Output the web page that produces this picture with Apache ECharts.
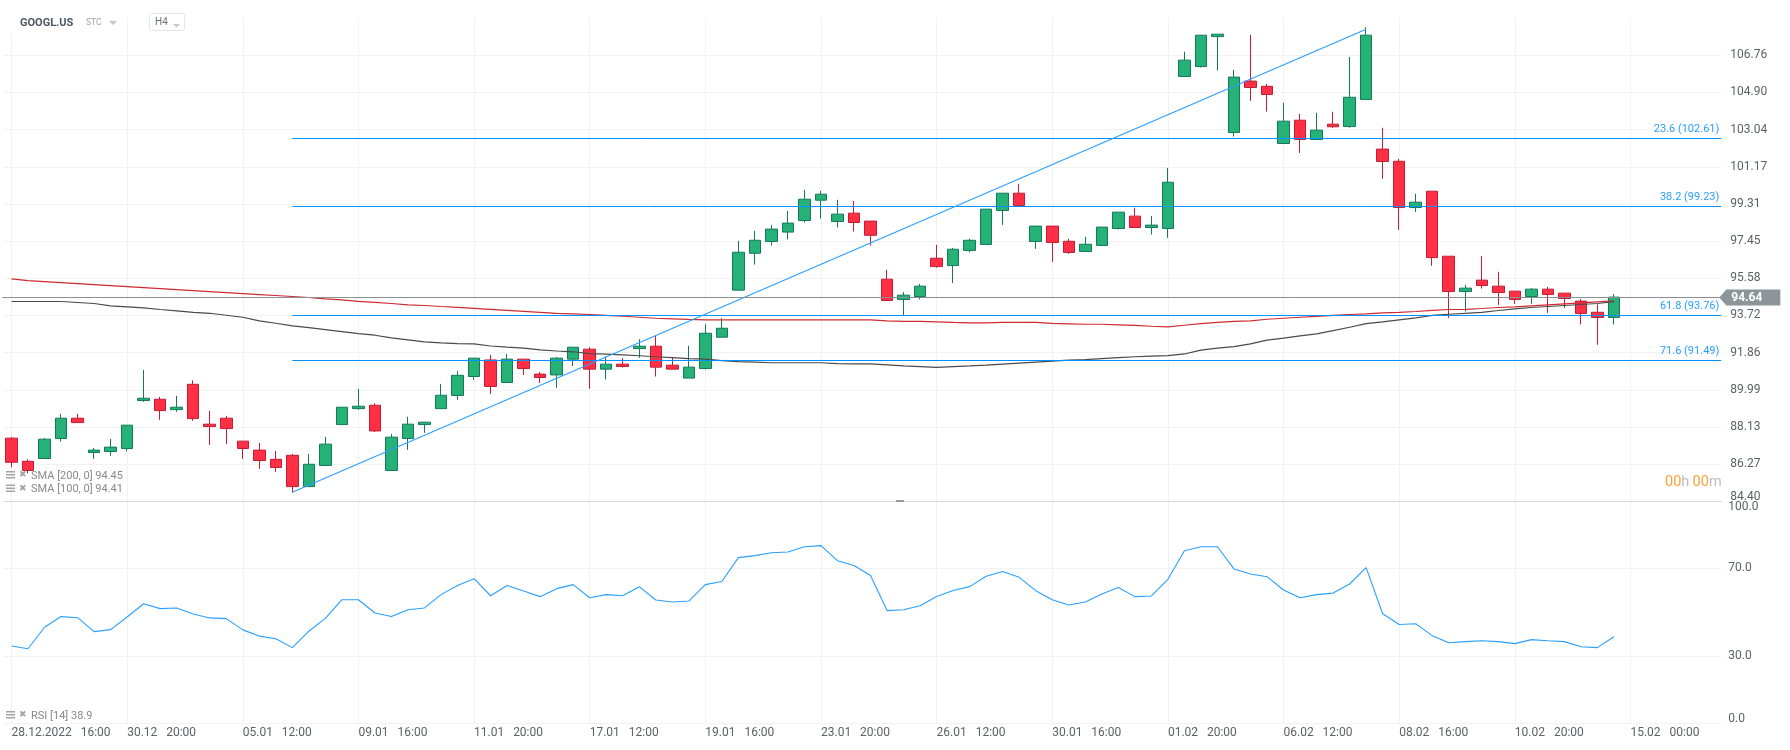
<!DOCTYPE html>
<html><head><meta charset="utf-8">
<style>html,body{margin:0;padding:0;background:#fff}#c{width:1790px;height:750px}</style>
<script src="https://cdn.jsdelivr.net/npm/echarts@6/dist/echarts.min.js"></script>
</head><body><div id="c"></div>
<script>
const opens=[87.57,86.41,86.55,87.55,88.57,86.85,86.90,87.05,89.46,89.52,89.00,90.27,88.27,88.57,87.42,86.97,86.51,86.71,85.14,86.20,88.25,89.05,89.22,85.95,87.55,88.25,89.05,89.71,90.66,91.49,90.36,91.53,90.78,90.74,91.53,92.03,91.03,91.28,92.06,92.18,91.23,90.58,91.06,92.63,94.99,96.84,97.43,97.90,98.48,99.50,98.43,98.85,98.45,95.54,94.52,94.67,96.59,96.22,96.98,97.28,98.98,99.85,97.43,98.20,97.44,96.93,97.23,98.08,98.70,98.13,98.08,105.70,106.20,107.70,102.89,105.47,105.21,102.34,103.51,102.54,103.31,103.19,104.55,102.06,101.45,99.13,99.95,96.69,94.92,95.49,95.19,94.94,94.67,95.04,94.84,94.44,93.88,93.62];
const closes=[86.36,85.95,87.52,88.57,88.35,86.97,87.12,88.22,89.57,88.95,89.12,88.55,88.15,88.05,87.05,86.45,86.10,85.14,86.26,87.27,89.12,89.17,87.93,87.62,88.27,88.37,89.72,90.72,91.58,90.16,91.53,91.06,90.61,91.58,92.13,91.03,91.28,91.16,92.18,91.13,91.03,91.13,92.83,93.08,96.89,97.49,98.05,98.35,99.55,99.80,98.80,98.38,97.74,94.47,94.74,95.19,96.17,97.04,97.49,99.05,99.85,99.23,98.20,97.38,96.88,97.29,98.15,98.90,98.13,98.25,100.40,106.52,107.77,107.82,105.67,105.15,104.80,103.46,102.54,103.01,103.18,104.66,107.77,101.44,99.13,99.40,96.62,94.92,95.09,95.22,94.87,94.52,95.04,94.77,94.57,93.82,93.62,94.64];
const lows=[86.11,85.81,86.55,87.40,88.35,86.53,86.68,86.90,89.39,88.49,88.89,88.44,87.23,87.28,86.53,86.03,85.88,84.84,85.14,86.20,88.25,89.00,87.88,85.95,86.98,87.83,89.05,89.49,90.49,89.79,90.36,90.74,90.34,90.09,91.19,90.04,90.51,91.11,91.60,90.66,91.03,90.58,91.01,92.63,94.99,96.27,97.23,97.53,98.38,98.58,98.13,97.93,97.23,94.47,93.73,94.52,96.12,95.35,96.88,97.28,98.26,99.23,97.06,96.41,96.81,96.93,97.23,98.03,98.13,97.78,97.61,105.70,106.15,106.00,102.69,104.48,103.94,102.34,101.87,102.54,103.13,103.13,104.55,100.57,98.01,98.91,96.21,93.60,93.92,95.07,94.25,94.30,94.30,93.85,94.10,93.27,92.25,93.27];
const highs=[87.63,86.51,87.58,88.79,88.79,87.08,87.53,88.22,90.99,89.64,89.69,90.47,88.94,88.69,87.42,87.33,86.93,86.78,86.78,87.63,89.12,90.04,89.32,87.78,88.64,88.37,90.29,90.94,91.58,91.74,91.79,91.53,90.89,91.64,92.13,92.13,91.66,91.58,92.53,92.70,91.63,92.20,93.28,93.58,97.46,97.96,98.26,98.96,100.02,99.97,99.52,99.47,98.45,96.01,94.90,95.30,97.26,97.11,97.56,99.05,99.85,100.32,98.20,98.20,97.56,97.66,98.15,98.90,99.12,98.71,101.12,106.94,107.77,107.82,106.03,107.79,105.33,104.38,103.83,103.88,103.93,106.68,108.17,103.13,101.57,99.82,99.95,96.69,95.25,96.71,95.91,94.94,95.09,95.15,94.84,94.55,94.28,94.79];
const sma200=[95.55,95.47,95.42,95.37,95.32,95.27,95.22,95.17,95.12,95.07,95.02,94.97,94.92,94.87,94.82,94.77,94.72,94.67,94.62,94.55,94.50,94.43,94.38,94.32,94.25,94.22,94.17,94.13,94.08,94.03,93.98,93.93,93.88,93.83,93.80,93.77,93.72,93.68,93.63,93.58,93.55,93.52,93.50,93.50,93.50,93.50,93.50,93.50,93.50,93.50,93.50,93.50,93.50,93.45,93.42,93.42,93.40,93.37,93.35,93.35,93.37,93.37,93.37,93.32,93.30,93.28,93.28,93.25,93.22,93.18,93.15,93.23,93.31,93.37,93.42,93.45,93.53,93.58,93.63,93.67,93.72,93.77,93.80,93.85,93.88,93.92,93.98,94.02,94.03,94.07,94.12,94.15,94.20,94.25,94.30,94.35,94.40,94.45];
const sma100=[94.42,94.42,94.42,94.42,94.37,94.32,94.20,94.15,94.10,94.02,93.95,93.88,93.83,93.73,93.63,93.45,93.33,93.20,93.11,93.01,92.91,92.81,92.73,92.60,92.50,92.40,92.35,92.31,92.30,92.19,92.13,92.08,92.00,91.94,91.90,91.81,91.78,91.74,91.70,91.65,91.61,91.56,91.53,91.46,91.41,91.38,91.35,91.35,91.35,91.35,91.31,91.29,91.29,91.24,91.19,91.16,91.12,91.16,91.19,91.23,91.28,91.33,91.38,91.43,91.48,91.51,91.56,91.61,91.65,91.68,91.71,91.79,91.98,92.08,92.16,92.30,92.48,92.58,92.70,92.80,92.96,93.13,93.31,93.40,93.50,93.60,93.72,93.78,93.83,93.88,93.97,94.05,94.12,94.17,94.22,94.27,94.32,94.41];
const rsi=[34.7,33.5,43.2,48.0,47.5,41.2,42.1,47.8,53.8,51.6,51.9,49.2,47.4,47.1,42.0,39.2,38.0,34.0,41.4,47.2,55.6,55.6,49.6,48.0,51.1,51.9,57.9,62.0,65.1,57.4,62.0,59.5,57.0,60.6,62.4,56.5,57.9,57.4,61.5,55.5,54.6,55.0,62.4,63.8,74.6,75.5,76.8,77.1,79.5,80.0,73.2,71.0,66.5,50.7,51.1,52.9,57.1,59.8,61.5,66.2,68.3,65.7,59.7,55.6,53.2,54.6,58.2,61.1,57.0,57.3,64.8,77.7,79.5,79.5,69.5,67.2,66.0,60.0,56.5,57.9,58.6,62.7,70.1,49.3,44.4,44.8,39.4,36.2,36.7,37.1,36.7,35.8,37.6,37.1,36.7,34.4,34.0,38.9];
const xTickLabels=['28.12.2022   16:00','30.12   20:00','05.01   12:00','09.01   16:00','11.01   20:00','17.01   12:00','19.01   16:00','23.01   20:00','26.01   12:00','30.01   16:00','01.02   20:00','06.02   12:00','08.02   16:00','10.02   20:00','15.02   00:00'];
const yTicks=[84.404,86.267,88.131,89.994,91.857,93.72,95.584,97.447,99.31,101.174,103.037,104.9,106.76];
const rsiTicks=[0,30,70,100];
const fibLevels=[23.6,38.2,61.8,71.6];
const fibValues=[102.61,99.23,93.76,91.49];
const fibStart=17;
const trendPoints=[[17,84.86],[82,108.07]];
const lastPrice=94.64;
const smaNames=['SMA [200, 0] 94.45','SMA [100, 0] 94.41'];
const rsiName='RSI [14] 38.9';

const CAT_COUNT=104, BAND=16.52, GL=3.24, GW=BAND*CAT_COUNT;
const categories=Array.from({length:CAT_COUNT},(_,i)=>String(i));
const FONT='Roboto, sans-serif';
const TXT='#5d6267', GRID='#f2f2f2';
const gridInterval=i=>i%7===0;

const chart=echarts.init(document.getElementById('c'),null,{width:1790,height:750,renderer:'canvas'});
function crisp(v){return Math.round(v)+0.5;}
function xAxisOf(idx,showLabel){
  return {type:'category',gridIndex:idx,data:categories,boundaryGap:true,
    axisLine:{show:idx===0,onZero:false,lineStyle:{color:'#dcdcdc',width:1}},
    axisTick:{show:false,alignWithLabel:true,interval:gridInterval},
    splitLine:{show:true,alignWithLabel:true,interval:gridInterval,lineStyle:{color:GRID,width:1}},
    axisLabel:{show:showLabel,interval:(i)=>i%7===0&&i/7<xTickLabels.length,align:'left',margin:4,
      color:TXT,fontFamily:FONT,fontSize:12,hideOverlap:false,
      formatter:(v,i)=>xTickLabels[Number(v)/7]||''}};
}
const lowRich={low:{color:TXT,fontFamily:FONT,fontSize:12,lineHeight:8}};
chart.setOption({
  animation:false,backgroundColor:'#fff',textStyle:{fontFamily:FONT},
  grid:[{left:GL,width:GW,top:18,height:483.3},{left:GL,width:GW,top:501.3,height:221.7}],
  xAxis:[xAxisOf(0,false),xAxisOf(1,true)],
  yAxis:[
    {type:'value',gridIndex:0,position:'right',min:84.404,max:108.633,scale:true,
      axisLine:{show:false},axisTick:{show:false,customValues:yTicks},
      splitLine:{show:true,lineStyle:{color:GRID,width:1}},
      axisLabel:{margin:9,color:TXT,fontFamily:FONT,fontSize:12,customValues:yTicks,
        showMinLabel:true,showMaxLabel:true,verticalAlignMinLabel:'bottom',rich:lowRich,
        formatter:v=>v===yTicks[0]?'{low|'+v.toFixed(2)+'}':v.toFixed(2)}},
    {type:'value',gridIndex:1,position:'right',min:0,max:100,
      axisLine:{show:false},axisTick:{show:false,customValues:rsiTicks},
      splitLine:{show:true,lineStyle:{color:GRID,width:1}},
      axisLabel:{margin:7,color:TXT,fontFamily:FONT,fontSize:12,customValues:rsiTicks,
        verticalAlignMinLabel:'bottom',verticalAlignMaxLabel:'top',rich:lowRich,
        formatter:v=>v===0?'{low|'+v.toFixed(1)+'}':v.toFixed(1)}}
  ],
  series:[
    {name:'GOOGL.US',type:'candlestick',xAxisIndex:0,yAxisIndex:0,barWidth:12,z:3,
      data:opens.map((o,i)=>[o,closes[i],lows[i],highs[i]]),
      itemStyle:{color:'#26b276',color0:'#ff3045',borderColor:'#14795a',borderColor0:'#bf1f35',borderWidth:1}},
    {name:'SMA 200',type:'line',xAxisIndex:0,yAxisIndex:0,data:sma200,symbol:'none',z:4,
      lineStyle:{color:'#cf2a2f',width:1.2}},
    {name:'SMA 100',type:'line',xAxisIndex:0,yAxisIndex:0,data:sma100,symbol:'none',z:4,
      lineStyle:{color:'#4a4a4a',width:1.2}},
    {name:'Trend',type:'line',xAxisIndex:0,yAxisIndex:0,data:trendPoints,symbol:'none',z:5,
      lineStyle:{color:'#2a9fff',width:1.1}},
    {name:'Fibonacci',type:'custom',xAxisIndex:0,yAxisIndex:0,z:5,
      data:fibValues.map(v=>[fibStart,v]),
      renderItem(params,api){
        const p=api.coord([api.value(0),api.value(1)]);
        const r=params.coordSys.x+params.coordSys.width;
        const y=crisp(p[1]);
        return {type:'group',children:[
          {type:'line',shape:{x1:p[0],y1:y,x2:r,y2:y},style:{stroke:'#0091fb',lineWidth:1}},
          {type:'text',style:{text:fibLevels[params.dataIndex].toFixed(1)+' ('+fibValues[params.dataIndex].toFixed(2)+')',
            x:r-2,y:y-9,align:'right',verticalAlign:'middle',fill:'#2a9fff',font:'11px '+FONT}}
        ]};
      }},
    {name:'Price',type:'custom',xAxisIndex:0,yAxisIndex:0,z:6,clip:false,
      data:[[0,lastPrice]],
      renderItem(params,api){
        const p=api.coord([0,api.value(1)]);
        const l=params.coordSys.x, r=l+params.coordSys.width, y=crisp(p[1]);
        return {type:'group',children:[
          {type:'line',shape:{x1:l-1,y1:y,x2:r,y2:y},style:{stroke:'#8a9092',lineWidth:1}},
          {type:'polygon',shape:{points:[[r-2,y],[r+5,y-8],[r+59,y-8],[r+59,y+8],[r+5,y+8]]},style:{fill:'#8c9599'}},
          {type:'text',style:{text:lastPrice.toFixed(2),x:r+10,y:y,align:'left',verticalAlign:'middle',fill:'#fff',font:'bold 12px '+FONT}}
        ]};
      }},
    {name:'RSI',type:'line',xAxisIndex:1,yAxisIndex:1,data:rsi,symbol:'none',z:4,
      lineStyle:{color:'#2a9fff',width:1.1}}
  ],
  graphic:[
    {type:'rect',shape:{x:0,y:17,width:127,height:16},style:{fill:'#fff'},z:10},
    {type:'rect',shape:{x:0,y:0,width:1790,height:17},style:{fill:'#fff'},z:10},
    {type:'text',x:20,y:23,z:11,style:{text:'GOOGL.US',font:'bold 11px '+FONT,fill:'#4d5862',verticalAlign:'middle'}},
    {type:'text',x:86,y:23,z:11,style:{text:'STC',font:'8.5px '+FONT,fill:'#9aa3aa',verticalAlign:'middle'}},
    {type:'polygon',z:11,shape:{points:[[109,21],[117,21],[113,25]]},style:{fill:'#c4c8cc'}},
    {type:'rect',z:11,shape:{x:149.5,y:13.5,width:35,height:17,r:2},style:{fill:'#fff',stroke:'#e3e5e7',lineWidth:1}},
    {type:'text',x:155,y:22,z:11,style:{text:'H4',font:'10px '+FONT,fill:'#6a7278',verticalAlign:'middle'}},
    {type:'polygon',z:11,shape:{points:[[173,24],[180,24],[176.5,27.5]]},style:{fill:'#c4c8cc'}},
    ...[[smaNames[0],476],[smaNames[1],489.5],[rsiName,716]].flatMap(([t,y])=>[
      {type:'rect',z:11,shape:{x:6,y:y-5,width:9,height:1.5},style:{fill:'#a3a3a3'}},
      {type:'rect',z:11,shape:{x:6,y:y-2,width:9,height:1.5},style:{fill:'#a3a3a3'}},
      {type:'rect',z:11,shape:{x:6,y:y+1,width:9,height:1.5},style:{fill:'#a3a3a3'}},
      {type:'text',x:19,y:y-1,z:11,style:{text:'\u2716',font:'9px "DejaVu Sans"',fill:'#a3a3a3',verticalAlign:'middle'}},
      {type:'text',x:31,y:y,z:11,style:{text:t,font:'11px '+FONT,fill:'#8a8a8a',verticalAlign:'middle'}}
    ]),
    {type:'rect',z:11,shape:{x:896,y:500,width:8,height:2},style:{fill:'#9a9a9a'}},
    {type:'text',x:1665,y:482,z:11,style:{
      text:'{a|00}{b|h} {a|00}{b|m}',verticalAlign:'middle',
      rich:{a:{fontFamily:FONT,fontSize:14.5,fill:'#ffa033'},b:{fontFamily:FONT,fontSize:14.5,fill:'#bdbdbd'}}}}
  ]
});
</script></body></html>
